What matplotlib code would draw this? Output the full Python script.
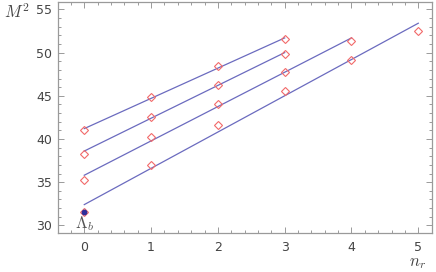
import numpy as np
import matplotlib
matplotlib.use("Agg")
import matplotlib.pyplot as plt
from matplotlib.ticker import MultipleLocator

plt.rcParams['mathtext.fontset'] = 'cm'

# data: M^2 values per trajectory, indexed by n_r
n1 = [0, 1, 2, 3]
s1 = [41.0, 44.9, 48.5, 51.6]
n2 = [0, 1, 2, 3]
s2 = [38.3, 42.5, 46.3, 49.8]
n3 = [0, 1, 2, 3, 4]
s3 = [35.2, 40.2, 44.1, 47.8, 51.3]
n4 = [0, 1, 2, 3, 4, 5]
s4 = [31.5, 37.0, 41.6, 45.6, 49.1, 52.5]

# fitted lines: start/end n_r and M^2 values
line_n0 = [0, 0, 0, 0]
line_n1 = [3, 3, 4, 5]
line_m0 = [41.2, 38.6, 35.8, 32.4]
line_m1 = [51.7, 50.0, 51.7, 53.4]

# ground state Lambda_b
lb_n = [0]
lb_m = [31.55]
lb_label = r'$\Lambda_b$'

xticks = [0, 1, 2, 3, 4, 5]
yticks = [30, 35, 40, 45, 50, 55]

fig = plt.figure(figsize=(4.36, 2.72), dpi=100)
ax = fig.add_axes([0.132, 0.143, 0.858, 0.851])

line_color = '#6b6bbf'
pt_color = '#f26a6a'

for a, b, c, d in zip(line_n0, line_n1, line_m0, line_m1):
    ax.plot([a, b], [c, d], color=line_color, lw=0.9, zorder=2)

for n, s in [(n1, s1), (n2, s2), (n3, s3), (n4, s4)]:
    ax.plot(n, s, linestyle='none', marker='D', ms=3.8, mfc='none',
            mec=pt_color, mew=0.8, zorder=3)

ax.plot(lb_n, lb_m, linestyle='none', marker='o', ms=3.2, color='#2e2e9a', zorder=4)
ax.text(lb_n[0], 30.25, lb_label, ha='center', va='center', fontsize=12, color='#555555')

ax.set_xlim(-0.4, 5.2)
ax.set_ylim(29.1, 55.9)
ax.set_xticks(xticks)
ax.set_yticks(yticks)
ax.xaxis.set_minor_locator(MultipleLocator(0.2))
ax.yaxis.set_minor_locator(MultipleLocator(1))

frame_color = '#9a9a9a'
for sp in ax.spines.values():
    sp.set_color(frame_color)
    sp.set_linewidth(0.9)

ax.tick_params(which='both', direction='in', top=True, right=True,
               color=frame_color, width=0.7, labelcolor='#444444', labelsize=9)
ax.tick_params(which='major', length=4.5)
ax.tick_params(which='minor', length=2.2)
ax.tick_params(axis='x', pad=6)
ax.tick_params(axis='y', pad=4)

fig.text(0.01, 0.955, r'$M^2$', fontsize=12, color='#444444', ha='left', va='center')
fig.text(0.958, 0.035, r'$n_r$', fontsize=12, color='#444444', ha='center', va='center')

fig.savefig('out.png', dpi=100)
